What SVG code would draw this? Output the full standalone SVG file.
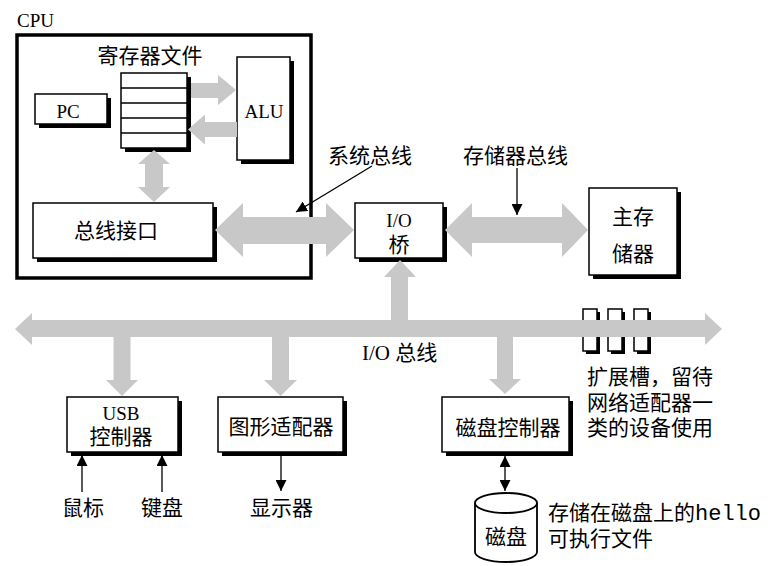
<svg xmlns="http://www.w3.org/2000/svg" width="771" height="566" viewBox="0 0 771 566">
<defs>
<style>
.t{font-family:"Liberation Serif","Noto Sans CJK SC",serif;font-size:21px;fill:#000}
.l{font-family:"Liberation Serif","Noto Sans CJK SC",serif;font-size:19px;fill:#000}
.m{font-family:"Liberation Mono",monospace;font-size:22px}
.box{fill:#fff;stroke:#000;stroke-width:1.5}
.sh{fill:#000}
.bus{fill:#c8c8c8;stroke:none}
.thin{stroke:#000;stroke-width:1.3;fill:none}
</style>
<marker id="ah" viewBox="0 0 10 10" refX="10" refY="5" markerWidth="9" markerHeight="9" markerUnits="userSpaceOnUse" orient="auto-start-reverse">
<path d="M0,0 L10,5 L0,10 z" fill="#000"/>
</marker>
<marker id="ah2" viewBox="0 0 10 10" refX="10" refY="5" markerWidth="11" markerHeight="11" markerUnits="userSpaceOnUse" orient="auto-start-reverse">
<path d="M0,0 L10,5 L0,10 z" fill="#000"/>
</marker>
</defs>
<rect width="771" height="566" fill="#fff"/>

<g id="cpu">
<text class="l" x="17" y="27">CPU</text>
<rect x="17" y="35" width="294" height="243" fill="#fff" stroke="#000" stroke-width="3.5"/>
</g>

<g id="regfile">
<text class="t" x="150" y="63" text-anchor="middle">寄存器文件</text>
<rect class="sh" x="125" y="77" width="66" height="75"/>
<rect class="box" x="121" y="73" width="66" height="75"/>
<path class="thin" d="M121,88H187M121,103H187M121,118H187M121,133H187"/>
</g>

<g id="pc">
<rect class="sh" x="39" y="98" width="72" height="30"/>
<rect class="box" x="35" y="94" width="72" height="30"/>
<text class="l" x="68" y="118" text-anchor="middle">PC</text>
</g>

<g id="alu">
<rect class="sh" x="241" y="61" width="53" height="103"/>
<rect class="box" x="237" y="57" width="53" height="103"/>
<text class="l" x="264" y="118" text-anchor="middle">ALU</text>
</g>

<g id="businterface">
<rect class="sh" x="37" y="207" width="180" height="55"/>
<rect class="box" x="33" y="203" width="180" height="55"/>
<text class="t" x="116" y="238" text-anchor="middle">总线接口</text>
</g>

<g id="iobridge">
<rect class="sh" x="359" y="207" width="88" height="55"/>
<rect class="box" x="355" y="203" width="88" height="55"/>
<text class="l" x="399" y="227" text-anchor="middle">I/O</text>
<text class="t" x="399" y="252" text-anchor="middle">桥</text>
</g>

<g id="mainmemory">
<rect class="sh" x="593" y="192" width="88" height="87"/>
<rect class="box" x="589" y="188" width="88" height="87"/>
<text class="t" x="633" y="224" text-anchor="middle">主存</text>
<text class="t" x="633" y="261" text-anchor="middle">储器</text>
</g>

<g id="usb">
<rect class="sh" x="71" y="401" width="111" height="55"/>
<rect class="box" x="67" y="397" width="111" height="55"/>
<text class="l" x="121" y="420" text-anchor="middle">USB</text>
<text class="t" x="121" y="444" text-anchor="middle">控制器</text>
</g>

<g id="graphics">
<rect class="sh" x="222" y="401" width="125" height="55"/>
<rect class="box" x="218" y="397" width="125" height="55"/>
<text class="t" x="281" y="434" text-anchor="middle">图形适配器</text>
</g>

<g id="diskctrl">
<rect class="sh" x="446" y="401" width="127" height="55"/>
<rect class="box" x="442" y="397" width="127" height="55"/>
<text class="t" x="508" y="435" text-anchor="middle">磁盘控制器</text>
</g>

<g id="slots">
<rect class="sh" x="586" y="312" width="14" height="42"/>
<rect class="box" x="583" y="309" width="14" height="42"/>
<rect class="sh" x="611" y="312" width="14" height="42"/>
<rect class="box" x="608" y="309" width="14" height="42"/>
<rect class="sh" x="637" y="312" width="14" height="42"/>
<rect class="box" x="634" y="309" width="14" height="42"/>
</g>

<g id="disk">
<path d="M475,503 V552 A31,10 0 0 0 537,552 V503" fill="#fff" stroke="#000" stroke-width="1.8"/>
<ellipse cx="506" cy="503" rx="31" ry="10" fill="#fff" stroke="#000" stroke-width="1.8"/>
<text class="t" x="506" y="544" text-anchor="middle">磁盘</text>
</g>

<g id="labels">
<text class="t" x="328" y="163">系统总线</text>
<text class="t" x="463" y="163">存储器总线</text>
<text class="t" x="362" y="360">I/O 总线</text>
<text class="t" x="587" y="384">扩展槽，留待</text>
<text class="t" x="587" y="410">网络适配器一</text>
<text class="t" x="587" y="435">类的设备使用</text>
<text class="t" x="62" y="515">鼠标</text>
<text class="t" x="141" y="515">键盘</text>
<text class="t" x="250" y="515">显示器</text>
<text class="t" x="548" y="520">存储在磁盘上的<tspan class="m">hello</tspan></text>
<text class="t" x="548" y="546">可执行文件</text>
</g>

<g id="connectors">
<polygon class="bus" points="191,83 218,83 218,75 236,90 218,105 218,98 191,98"/>
<polygon class="bus" points="237,122 205,122 205,114.5 188,129.5 205,144.5 205,137 237,137"/>
<polygon class="bus" points="154,150 170,164 163,164 163,187 170,187 154,202 138,187 145,187 145,164 138,164"/>
<polygon class="bus" points="215,230 243,203 243,217 326,217 326,203 354,230 326,257 326,244 243,244 243,257"/>
<polygon class="bus" points="445,230 472,203 472,217 562,217 562,203 588,230 562,257 562,243 472,243 472,257"/>
<polygon class="bus" points="15,329 32,313 32,320 391,320 391,277 384,277 400,260 416,277 408,277 408,320 705,320 705,313 722,329 705,345 705,337 513,337 513,379 521,379 505,394 489,379 497,379 497,337 289,337 289,380 297,380 280.5,396 264,380 272,380 272,337 130.5,337 130.5,380 138,380 122,396 106,380 113.5,380 113.5,337 32,337 32,345"/>
<line class="thin" x1="372" y1="166" x2="296" y2="212" marker-end="url(#ah2)"/>
<line class="thin" x1="517" y1="168" x2="517" y2="215" marker-end="url(#ah2)"/>
<line class="thin" x1="82" y1="492" x2="82" y2="455" marker-end="url(#ah2)"/>
<line class="thin" x1="162" y1="492" x2="162" y2="455" marker-end="url(#ah2)"/>
<line class="thin" x1="281" y1="453" x2="281" y2="491" marker-end="url(#ah2)"/>
<line class="thin" x1="505" y1="456" x2="505" y2="491" marker-start="url(#ah2)" marker-end="url(#ah2)"/>
</g>
</svg>
